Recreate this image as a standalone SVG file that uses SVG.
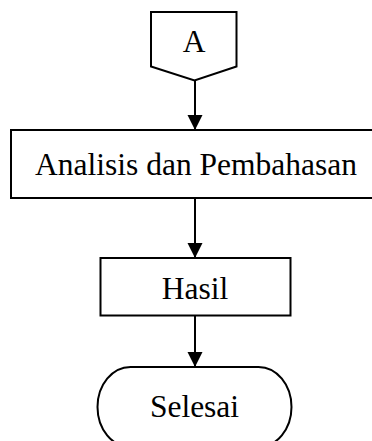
<svg xmlns="http://www.w3.org/2000/svg" width="372" height="441" viewBox="0 0 372 441">
<defs>
<style>
.s{fill:#fff;stroke:#000;stroke-width:2}
.t{font-family:"Liberation Serif","Times New Roman",serif;font-size:31.5px;fill:#000;text-anchor:middle}
.c{stroke:#000;stroke-width:2;fill:none}
</style>
<marker id="ah" markerUnits="userSpaceOnUse" markerWidth="16" markerHeight="16" refX="15" refY="7.5" orient="auto">
<path d="M0,0 L15,7.5 L0,15 Z" fill="#000"/>
</marker>
</defs>
<g id="nodeA">
<path class="s" d="M151,12 H236.5 V66.5 L194.5,80.5 L151,66.5 Z"/>
<text class="t" x="194" y="52">A</text>
</g>
<g id="analisis">
<rect class="s" x="11" y="130" width="364" height="68"/>
<text class="t" x="196" y="175">Analisis dan Pembahasan</text>
</g>
<g id="hasil">
<rect class="s" x="100.5" y="258" width="190" height="57.5"/>
<text class="t" x="195" y="299">Hasil</text>
</g>
<g id="selesai">
<rect class="s" x="97.5" y="367" width="194" height="80" rx="33" ry="40"/>
<text class="t" x="194.5" y="417">Selesai</text>
</g>
<g id="connectors">
<line class="c" x1="195" y1="80.5" x2="195" y2="130" marker-end="url(#ah)"/>
<line class="c" x1="195" y1="198" x2="195" y2="258" marker-end="url(#ah)"/>
<line class="c" x1="195" y1="315.5" x2="195" y2="367" marker-end="url(#ah)"/>
</g>
</svg>
